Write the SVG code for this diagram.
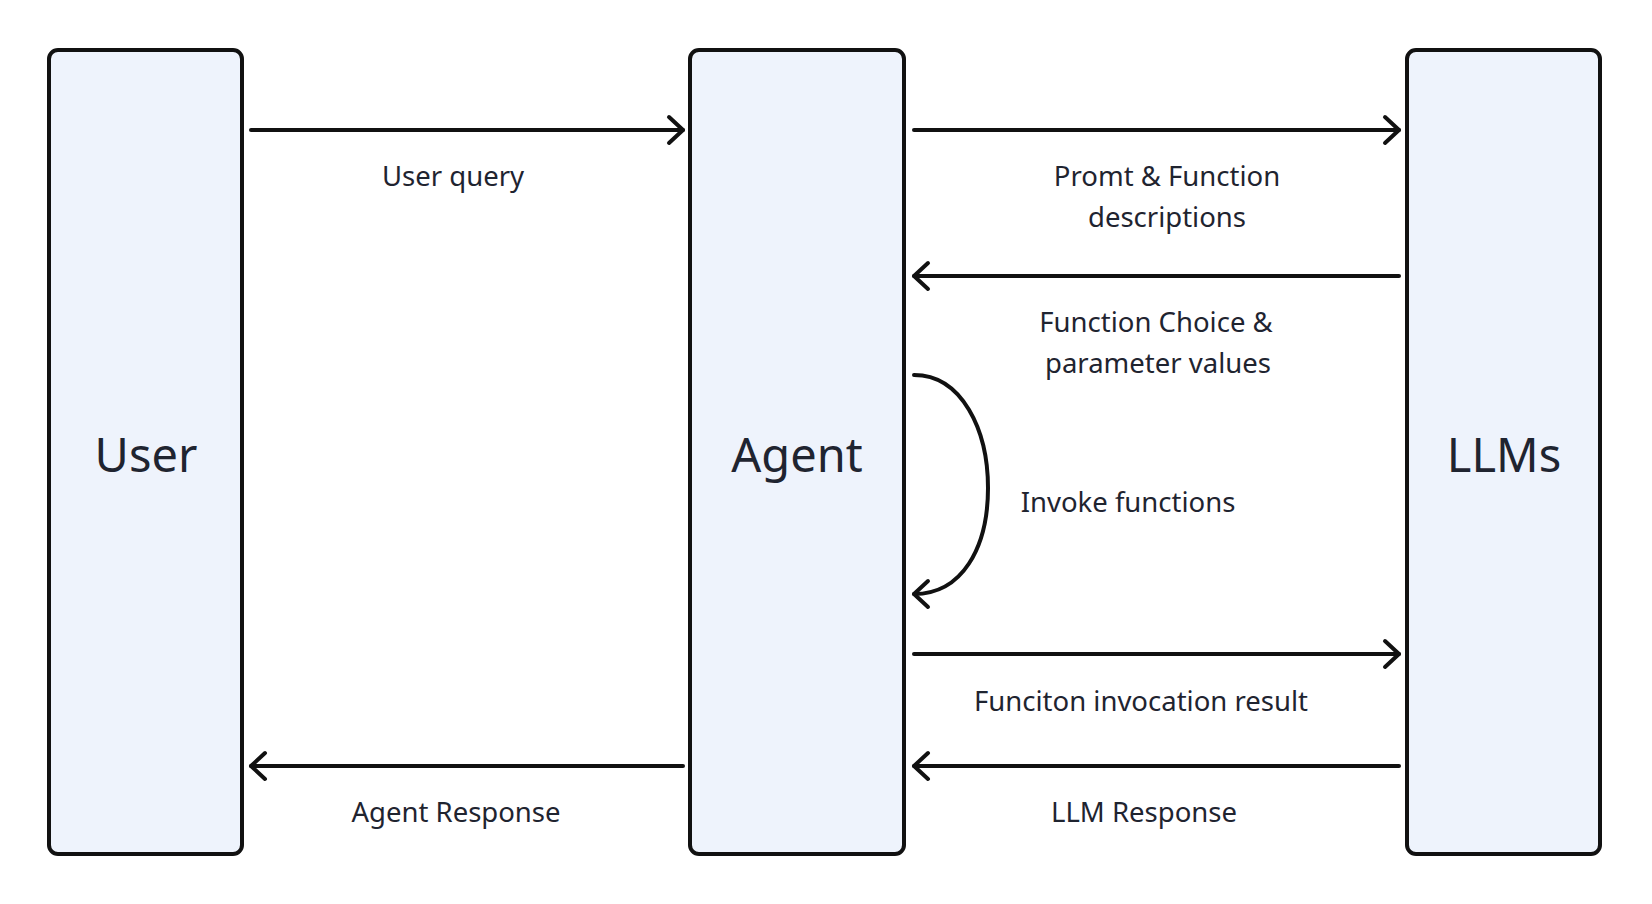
<svg xmlns="http://www.w3.org/2000/svg" width="1652" height="904" viewBox="0 0 1652 904">
<style>
.box{fill:#EEF3FC;stroke:#111111;stroke-width:4}
.node{font-family:"Noto Sans","Open Sans",sans-serif;font-size:47px;fill:#1f2430;text-anchor:middle}
.lbl{font-family:"Noto Sans","Open Sans",sans-serif;font-size:27.5px;fill:#1f2430;text-anchor:middle}
.edge{fill:none;stroke:#111111;stroke-width:4;stroke-linecap:round;marker-end:url(#arr)}
</style>
<defs>
<marker id="arr" markerUnits="userSpaceOnUse" markerWidth="40" markerHeight="40" viewBox="-20 -20 40 40" refX="0" refY="0" orient="auto" overflow="visible">
<path d="M-14,-13 L0,0 L-14,13" fill="none" stroke="#111111" stroke-width="4" stroke-linecap="round" stroke-linejoin="round"/>
</marker>
</defs>
<rect width="1652" height="904" fill="#ffffff"/>
<g id="user">
<rect class="box" x="49" y="50" width="193" height="804" rx="9"/>
<text class="node" x="146" y="472">User</text>
</g>
<g id="agent">
<rect class="box" x="690" y="50" width="214" height="804" rx="9"/>
<text class="node" x="797" y="472">Agent</text>
</g>
<g id="llms">
<rect class="box" x="1407" y="50" width="193" height="804" rx="9"/>
<text class="node" x="1504" y="472">LLMs</text>
</g>
<g id="connectors">
<path class="edge" d="M251,130 L683,130"/>
<path class="edge" d="M914,130 L1399,130"/>
<path class="edge" d="M1399,276 L914,276"/>
<path class="edge" d="M914,375 C962,375 988,430 988,488 C988,548 962,594 914,594"/>
<path class="edge" d="M914,654 L1399,654"/>
<path class="edge" d="M1399,766 L914,766"/>
<path class="edge" d="M683,766 L251,766"/>
</g>
<g id="labels">
<text class="lbl" x="453" y="186">User query</text>
<text class="lbl" x="1167" y="186">Promt &amp; Function</text>
<text class="lbl" x="1167" y="227">descriptions</text>
<text class="lbl" x="1156" y="332">Function Choice &amp;</text>
<text class="lbl" x="1158" y="373">parameter values</text>
<text class="lbl" x="1128" y="512">Invoke functions</text>
<text class="lbl" x="1141" y="711">Funciton invocation result</text>
<text class="lbl" x="1144" y="822">LLM Response</text>
<text class="lbl" x="456" y="822">Agent Response</text>
</g>
</svg>
